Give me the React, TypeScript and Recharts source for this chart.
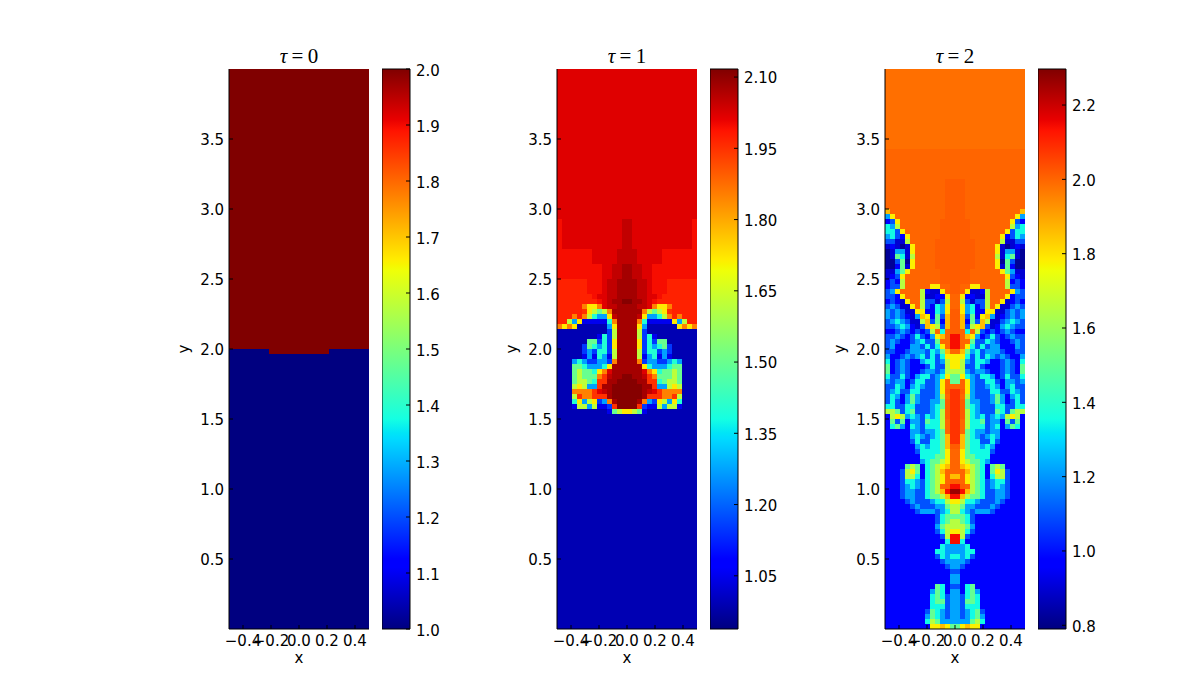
import React from "react";
import { BarChart, Bar, ScatterChart, Scatter, XAxis, YAxis, Label } from "recharts";

// each field as [rows, half-row], centre column first; a short row repeats its last level
const xTicks = [-0.4, -0.2, 0, 0.2, 0.4];
const yTicks = [0.5, 1, 1.5, 2, 2.5, 3, 3.5];

const tau0Domain = [1, 2];
const tau0BarTicks = [1, 1.1, 1.2, 1.3, 1.4, 1.5, 1.6, 1.7, 1.8, 1.9, 2];
const tau0Levels = { "0": 1, "1": 2 };
const tau0Rows: [number, string][] = [
  [56, "1"],
  [1, "1111110"],
  [55, "0"],
];

const tau1Domain = [0.938, 2.117];
const tau1BarTicks = [1.05, 1.2, 1.35, 1.5, 1.65, 1.8, 1.95, 2.1];
const tau1Levels = {
  "0": 0.99, "1": 1.05, "2": 1.15, "3": 1.27, "4": 1.4, "5": 1.5, "6": 1.62, "7": 1.72,
  "8": 1.85, "9": 1.95, a: 2.02, b: 2.05, c: 2.08, d: 2.11, e: 1.97, f: 1.995,
};
const tau1Rows: [number, string][] = [
  [30, "a"],
  [6, "baaaaaaaaaaaaf"],
  [3, "bbaaaaafffffff"],
  [3, "cbbaafffffffff"],
  [3, "ccbbafffeeeeee"],
  [1, "ccbbaafeeeeeee"],
  [1, "dccbafeeeeeeee"],
  [1, "ccbba8778eeeee"],
  [1, "ccc865679eeeee"],
  [1, "ccb733468e8eee"],
  [1, "cc8411111736ee"],
  [1, "cc730000007878"],
  [1, "cc620"],
  [1, "cc62410"],
  [1, "cc7242550"],
  [1, "cc72434520"],
  [1, "cc62442320"],
  [1, "cc61341310"],
  [1, "cc8233223430"],
  [1, "ccc743334550"],
  [1, "ccca87455650"],
  [1, "dccb98555650"],
  [1, "ddcc99456650"],
  [1, "dddcc9336760"],
  [1, "dddcba988880"],
  [1, "dddc99988960"],
  [1, "ddc832763740"],
  [1, "dd9211636610"],
  [1, "76510"],
  [43, "0"],
];

const tau2Domain = [0.79, 2.297];
const tau2BarTicks = [0.8, 1, 1.2, 1.4, 1.6, 1.8, 2, 2.2];
const tau2Levels = {
  "0": 0.82, "1": 0.9, "2": 0.97, "3": 1.1, "4": 1.22, "5": 1.35, "6": 1.5, "7": 1.65,
  "8": 1.78, "9": 1.86, T: 1.985, a: 2.0, b: 2.015, c: 2.14, d: 2.26, e: 2.08,
};
const tau2Rows: [number, string][] = [
  [16, "T"],
  [6, "a"],
  [6, "bba"],
  [1, "bbaaaaaaaaaaa9"],
  [1, "bbaaaaaaaaaa84"],
  [1, "bbbaaaaaaaa832"],
  [1, "bbbaaaaaaaa745"],
  [1, "bbbaaaaaaa8355"],
  [1, "bbbaaaaaa82354"],
  [1, "bbbbaaaaa71133"],
  [1, "bbbbaaaa810121"],
  [1, "bbbbaaaa814410"],
  [1, "bbbbaaaa715610"],
  [1, "bbbbaaaa806300"],
  [1, "bbbbaaaa816200"],
  [1, "bbbaaaaaa86411"],
  [1, "bbbaaaaaaa8321"],
  [1, "bbbaaaaaaa7232"],
  [1, "baa88aaaaa7332"],
  [1, "ba81127aaaa843"],
  [1, "a822117aaa8233"],
  [1, "a731337aa81232"],
  [1, "a845237a811343"],
  [1, "b8452288113434"],
  [1, "b9362894123434"],
  [1, "b9263971134543"],
  [1, "b9378931245433"],
  [1, "ba5a7323234322"],
  [1, "ca984235323433"],
  [1, "caa63354322343"],
  [1, "ca853534422243"],
  [1, "a9645344432233"],
  [1, "88535354343224"],
  [1, "87435542234325"],
  [1, "87335322234326"],
  [1, "77434432234326"],
  [1, "68543554235335"],
  [1, "6a843355324434"],
  [1, "aa843345424533"],
  [1, "eb843335533543"],
  [1, "ea743334642453"],
  [1, "eb644334642353"],
  [1, "eb654333553355"],
  [1, "eb754333653677"],
  [1, "eb754534547872"],
  [1, "ea755634426362"],
  [1, "ea755534524652"],
  [1, "ea65443442"],
  [1, "e965434542"],
  [1, "e965533532"],
  [1, "b96554542"],
  [1, "a86555532"],
  [1, "a8665552"],
  [1, "a8766542"],
  [1, "a9876526762"],
  [1, "aa9765268732"],
  [1, "9a8765257732"],
  [1, "ba8765345532"],
  [1, "cba765345432"],
  [1, "dc9765334432"],
  [1, "c97665334432"],
  [1, "87554333432"],
  [1, "7644333432"],
  [1, "754344432"],
  [1, "66532"],
  [1, "76532"],
  [1, "77642"],
  [1, "87532"],
  [1, "c732"],
  [1, "c52"],
  [1, "4452"],
  [1, "44552"],
  [1, "54532"],
  [1, "4432"],
  [1, "432"],
  [1, "32"],
  [1, "42"],
  [1, "42"],
  [1, "32562"],
  [1, "425642"],
  [1, "435652"],
  [1, "436652"],
  [1, "435552"],
  [1, "4345632"],
  [1, "4345642"],
  [1, "4446752"],
  [1, "689882"],
];

const jetRed = [[0, 0], [0.35, 0], [0.66, 1], [0.89, 1], [1, 0.5]];
const jetGreen = [[0, 0], [0.125, 0], [0.375, 1], [0.64, 1], [0.91, 0], [1, 0]];
const jetBlue = [[0, 0.5], [0.11, 1], [0.34, 1], [0.65, 0], [1, 0]];
const jetOffsets = [0, 0.11, 0.125, 0.34, 0.35, 0.375, 0.5, 0.64, 0.65, 0.66, 0.89, 0.91, 1];

const channel = (stops: number[][], f: number) => {
  for (let i = 1; i < stops.length; i++) {
    if (f <= stops[i][0]) {
      const [x0, y0] = stops[i - 1];
      const [x1, y1] = stops[i];
      return Math.round(255 * (y0 + ((f - x0) / (x1 - x0)) * (y1 - y0)));
    }
  }
  return Math.round(255 * stops[stops.length - 1][1]);
};

const jet = (f: number) => {
  const t = Math.min(1, Math.max(0, f));
  return `rgb(${channel(jetRed, t)},${channel(jetGreen, t)},${channel(jetBlue, t)})`;
};

const COLS = 14;
const CELL = 5;
const font = "'DejaVu Sans', sans-serif";
const tickStyle = { fill: "#000", fontSize: 15, fontFamily: font, dy: 1 };
const noMark = () => <g />;

const buildCells = (rows: [number, string][], levels: Record<string, number>) => {
  const cells: { x: number; y: number; value: number }[] = [];
  let r = 0;
  rows.forEach(([count, text]) => {
    const full = text.padEnd(COLS, text[text.length - 1]);
    for (let n = 0; n < count; n++, r++) {
      for (let c = 0; c < COLS; c++) {
        const value = levels[full[c]];
        const y = 4 - (r + 0.5) / 28;
        cells.push({ x: (c + 0.5) / 28, y, value });
        cells.push({ x: -(c + 0.5) / 28, y, value });
      }
    }
  });
  return cells;
};

const Field = ({ left, title, rows, levels, domain }: any) => {
  const cells = buildCells(rows, levels);
  const span = domain[1] - domain[0];
  const drawCell = (p: any) => (
    <rect
      x={p.cx - CELL / 2}
      y={p.cy - CELL / 2}
      width={CELL}
      height={CELL}
      fill={jet((p.payload.value - domain[0]) / span)}
    />
  );
  const anchor = cells.slice(0, 1);
  return (
    <>
      <div
        style={{
          position: "absolute",
          left: left + 70 - 40,
          top: 44,
          width: 80,
          textAlign: "center",
          fontFamily: "'Liberation Serif', serif",
          fontSize: 21,
          lineHeight: "24px",
          color: "#000",
        }}
      >
        <i>τ</i>&#8201;=&#8201;{title}
      </div>
      <div style={{ position: "absolute", left: left - 60, top: 0 }}>
        <ScatterChart width={210} height={700} margin={{ top: 69, right: 10, bottom: 71, left: 60 }}>
          <XAxis type="number" dataKey="x" domain={[-0.5, 0.5]} hide />
          <YAxis type="number" dataKey="y" domain={[0, 4]} hide />
          <Scatter data={cells} dataKey="value" shape={drawCell} isAnimationActive={false} />
        </ScatterChart>
      </div>
      {/* axes sit in a second chart so the inward ticks land on top of the cells */}
      <div style={{ position: "absolute", left: left - 60, top: 0 }}>
        <ScatterChart width={210} height={700} margin={{ top: 69, right: 10, bottom: 0, left: 0 }}>
          <Scatter data={anchor} dataKey="value" shape={noMark} isAnimationActive={false} />
          <Scatter
            data={anchor}
            dataKey="value"
            xAxisId="top"
            yAxisId="right"
            shape={noMark}
            isAnimationActive={false}
          />
          <XAxis
            type="number"
            dataKey="x"
            domain={[-0.5, 0.5]}
            ticks={xTicks}
            interval={0}
            height={71}
            tickSize={-4}
            tickMargin={9}
            tick={tickStyle}
            stroke="#000"
            tickFormatter={(v: number) => v.toFixed(1).replace("-", "\u2212")}
          >
            <Label value="x" position="insideTop" offset={23} fill="#000" fontSize={15} fontFamily={font} />
          </XAxis>
          <XAxis
            xAxisId="top"
            orientation="top"
            type="number"
            dataKey="x"
            domain={[-0.5, 0.5]}
            ticks={xTicks}
            interval={0}
            height={0}
            tickSize={-4}
            stroke="#000"
            tickFormatter={() => ""}
          />
          <YAxis
            type="number"
            dataKey="y"
            domain={[0, 4]}
            ticks={yTicks}
            interval={0}
            width={60}
            tickSize={-4}
            tickMargin={9}
            tick={tickStyle}
            stroke="#000"
            tickFormatter={(v: number) => v.toFixed(1)}
          >
            <Label
              value="y"
              angle={-90}
              position="insideLeft"
              offset={15}
              textAnchor="middle"
              fill="#000"
              fontSize={15}
              fontFamily={font}
            />
          </YAxis>
          <YAxis
            yAxisId="right"
            orientation="right"
            type="number"
            dataKey="y"
            domain={[0, 4]}
            ticks={yTicks}
            interval={0}
            width={0}
            tickSize={-4}
            stroke="#000"
            tickFormatter={() => ""}
          />
        </ScatterChart>
      </div>
    </>
  );
};

const ColorBar = ({ left, id, domain, ticks, digits, tickDy = 1 }: any) => (
  <>
    <div style={{ position: "absolute", left, top: 0 }}>
      <BarChart
        width={78}
        height={700}
        data={[{ name: "bar", range: domain }]}
        margin={{ top: 69, right: 50, bottom: 71, left: 0 }}
        barCategoryGap={0}
      >
        <defs>
          <linearGradient id={id} x1="0" y1="1" x2="0" y2="0">
            {jetOffsets.map((f) => (
              <stop key={f} offset={f} stopColor={jet(f)} />
            ))}
          </linearGradient>
        </defs>
        <XAxis dataKey="name" hide />
        <YAxis type="number" domain={domain} hide />
        <Bar dataKey="range" fill={`url(#${id})`} stroke="#000" isAnimationActive={false} />
      </BarChart>
    </div>
    <div style={{ position: "absolute", left, top: 0 }}>
      <BarChart
        width={78}
        height={700}
        data={[{ name: "bar", range: domain }]}
        margin={{ top: 69, right: 0, bottom: 71, left: 0 }}
      >
        <XAxis dataKey="name" hide />
        <Bar dataKey="range" fill="none" stroke="none" isAnimationActive={false} />
        <YAxis
          orientation="right"
          type="number"
          domain={domain}
          ticks={ticks}
          interval={0}
          width={50}
          tickSize={-4}
          tickMargin={10}
          tick={{ ...tickStyle, dy: tickDy }}
          axisLine={false}
          stroke="#000"
          tickFormatter={(v: number) => v.toFixed(digits)}
        />
      </BarChart>
    </div>
  </>
);

const App = () => (
  <div style={{ position: "fixed", left: 0, top: 0, width: 1200, height: 700, background: "#fff" }}>
    <Field left={229} title="0" rows={tau0Rows} levels={tau0Levels} domain={tau0Domain} />
    <ColorBar left={382} id="jet0" domain={tau0Domain} ticks={tau0BarTicks} digits={1} tickDy={2} />
    <Field left={557} title="1" rows={tau1Rows} levels={tau1Levels} domain={tau1Domain} />
    <ColorBar left={710} id="jet1" domain={tau1Domain} ticks={tau1BarTicks} digits={2} />
    <Field left={885} title="2" rows={tau2Rows} levels={tau2Levels} domain={tau2Domain} />
    <ColorBar left={1038} id="jet2" domain={tau2Domain} ticks={tau2BarTicks} digits={1} />
  </div>
);

export default App;
